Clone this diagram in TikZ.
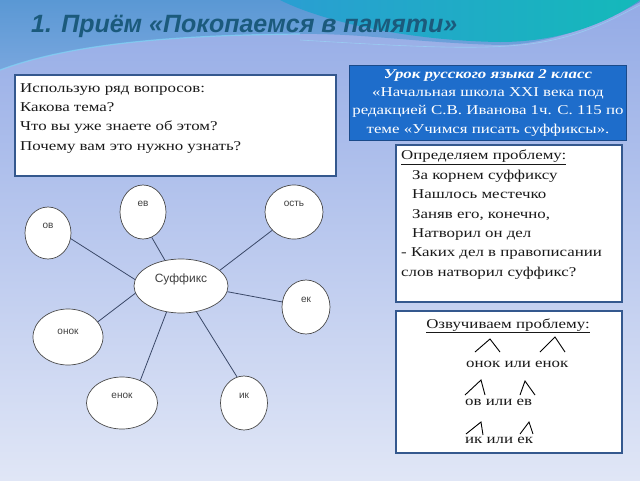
\documentclass[tikz,border=0pt]{standalone}
\usepackage{fontspec}
\setmainfont{Liberation Serif}[FakeStretch=1.25]
\setsansfont{Liberation Sans}
\newfontfamily\titlefont{Liberation Sans}
\usetikzlibrary{shapes.geometric}
\definecolor{bgtop}{HTML}{94ABE6}
\definecolor{bgbot}{HTML}{E0E6F6}
\definecolor{topblue}{HTML}{5A98D4}
\definecolor{topblue2}{HTML}{78A6DE}
\definecolor{tealA}{HTML}{2A9ED2}
\definecolor{tealB}{HTML}{14B9BA}
\definecolor{titlec}{HTML}{1B5A7C}
\definecolor{boxline}{HTML}{34588E}
\definecolor{bluefill}{HTML}{1E6DCB}
\definecolor{blueline}{HTML}{1A4A8A}
\definecolor{linec}{HTML}{3A4868}
\definecolor{ellc}{HTML}{4A4A4A}
\tikzset{
  whitebox/.style={draw=boxline, line width=1.6pt, fill=white, rectangle, inner sep=0pt, anchor=north west},
  bluebox/.style={draw=blueline, line width=1.2pt, fill=bluefill, rectangle, inner sep=0pt, anchor=north west},
  boxtext/.style={inner sep=0pt, anchor=north west, align=left, font=\fontsize{13.5}{19.4}\selectfont, text=black!90},
  rowtext/.style={inner sep=0pt, anchor=base west, font=\fontsize{13.5}{18}\selectfont, text=black!90},
  bubble/.style={draw=ellc, line width=0.7pt, fill=white, ellipse, inner sep=0pt},
  bubtext/.style={font=\sffamily\fontsize{10}{12}\selectfont, text=black!75},
  spoke/.style={draw=linec, line width=0.8pt},
  sufmark/.style={draw=black, line width=0.9pt}
}
\begin{document}
\begin{tikzpicture}[x=1pt,y=-1pt]
\useasboundingbox (0,0) rectangle (640,480);
% background
\shade[top color=bgtop, bottom color=bgbot] (0,0) rectangle (640,480);
\shade[top color=topblue, bottom color=topblue2] (0,0) -- (640,0) -- (640,2) .. controls (590,30) and (540,45) .. (500,45) .. controls (420,43) and (360,33) .. (300,34) .. controls (200,35) and (80,40) .. (0,70) -- cycle;
\shade[left color=tealA, right color=tealB] (280,0) .. controls (330,25) and (420,41) .. (500,42) .. controls (565,42) and (612,20) .. (640,0) -- cycle;
\draw[cyan!50!white, opacity=0.7, line width=1.2pt] (0,70) .. controls (80,40) and (200,35) .. (300,34);
\draw[cyan!40!white, opacity=0.6, line width=0.6pt] (300,40) .. controls (400,46) and (470,50) .. (520,45) .. controls (580,40) and (620,15) .. (640,5);
% title
\node[anchor=base west, inner sep=0pt, text=titlec, font=\titlefont\bfseries\itshape\fontsize{25}{28}\selectfont] (title) at (31,32) {1. Приём «Покопаемся в памяти»};
% box 1
\node[whitebox, minimum width=321pt, minimum height=101pt] (b1) at (14,74) {};
\node[boxtext] (t1) at (20,83) {Использую ряд вопросов:\\Какова тема?\\Что вы уже знаете об этом?\\Почему вам это нужно узнать?};
% box 2
\node[bluebox, minimum width=277pt, minimum height=75pt] (b2) at (349,65) {};
\node[inner sep=0pt, anchor=north, align=center, text=white, font=\fontsize{13.5}{18.3}\selectfont] (t2) at (488,69) {\textbf{\textit{Урок русского языка 2 класс}}\\«Начальная школа XXI века под\\редакцией С.В. Иванова 1ч. С. 115 по\\теме «Учимся писать суффиксы».};
% box 3
\node[whitebox, minimum width=226pt, minimum height=157pt] (b3) at (395,144) {};
\node[boxtext] (t3) at (401,150) {\underline{Определяем проблему:}\\\hspace*{11pt}За корнем суффиксу\\\hspace*{11pt}Нашлось местечко\\\hspace*{11pt}Заняв его, конечно,\\\hspace*{11pt}Натворил он дел\\- Каких дел в правописании\\слов натворил суффикс?};
% box 4
\node[whitebox, minimum width=226pt, minimum height=142pt] (b4) at (395,310) {};
\node[inner sep=0pt, anchor=base, font=\fontsize{13.5}{18}\selectfont, text=black!90] (t4) at (508,328) {\underline{Озвучиваем проблему:}};
\node[rowtext] (r1) at (466,367) {онок или енок};
\node[rowtext] (r2) at (465,405) {ов или ев};
\node[rowtext] (r3) at (465,443) {ик или ек};
\draw[sufmark] (475,352) -- (490,339) -- (500,352);
\draw[sufmark] (540,352) -- (555,337) -- (565,352);
\draw[sufmark] (465,395) -- (481,380) -- (485,395);
\draw[sufmark] (520,395) -- (525,381) -- (535,395);
\draw[sufmark] (466,434) -- (481,422) -- (483,435);
\draw[sufmark] (520,434) -- (529,422) -- (533,434);
% mind map
\node[bubble, minimum width=94pt, minimum height=54pt, label={[bubtext, font=\sffamily\fontsize{12}{14}\selectfont, yshift=7pt]center:Суффикс}] (suf) at (181,286) {};
\node[bubble, minimum width=46pt, minimum height=52pt, label={[bubtext, yshift=7pt]center:ов}] (ov) at (48,233) {};
\node[bubble, minimum width=46pt, minimum height=54pt, label={[bubtext, yshift=8pt]center:ев}] (ev) at (143,212) {};
\node[bubble, minimum width=58pt, minimum height=54pt, label={[bubtext, yshift=8pt]center:ость}] (ost) at (294,212) {};
\node[bubble, minimum width=48pt, minimum height=54pt, label={[bubtext, yshift=7pt]center:ек}] (ek) at (306,307) {};
\node[bubble, minimum width=70pt, minimum height=56pt, label={[bubtext, yshift=5pt]center:онок}] (onok) at (68,337) {};
\node[bubble, minimum width=71pt, minimum height=52pt, label={[bubtext, yshift=7pt]center:енок}] (enok) at (122,403) {};
\node[bubble, minimum width=47pt, minimum height=54pt, label={[bubtext, yshift=7pt]center:ик}] (ik) at (244,403) {};
\draw[spoke] (suf.172) -- (ov.-14);
\draw[spoke] (suf.122) -- (ev.-71);
\draw[spoke] (suf.22) -- (ost.220);
\draw[spoke] (suf.-7) -- (ek.168);
\draw[spoke] (suf.189) -- (onok.27);
\draw[spoke] (suf.241) -- (enok.51);
\draw[spoke] (suf.-59) -- (ik.105);
\end{tikzpicture}
\end{document}
